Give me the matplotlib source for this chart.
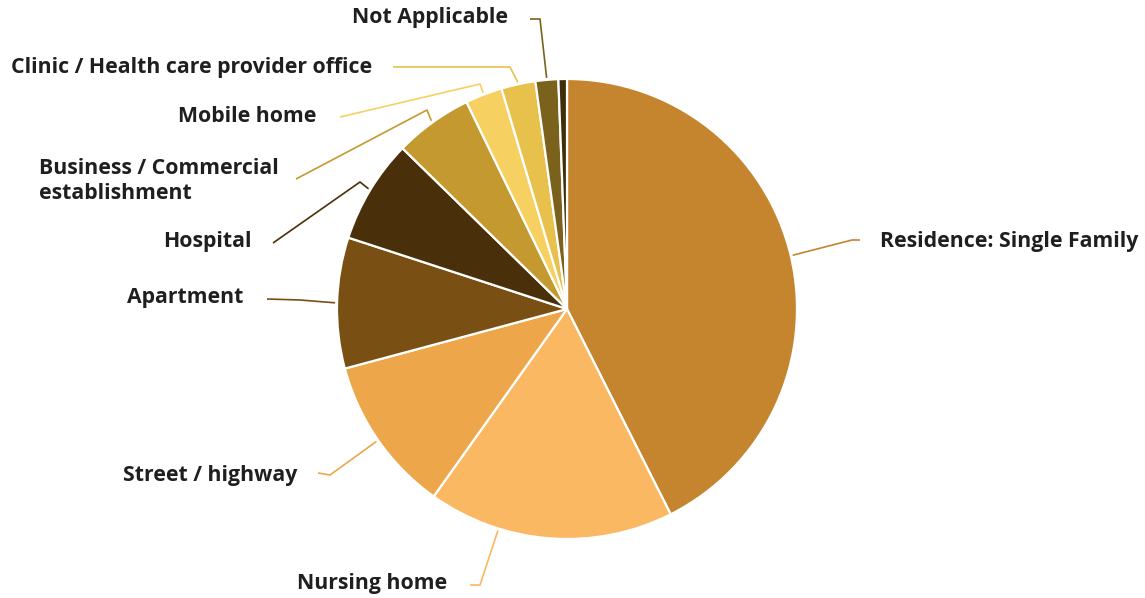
import numpy as np
import matplotlib
matplotlib.use("Agg")
import matplotlib.pyplot as plt

# ---- data ----
categories = ["Residence: Single Family", "Nursing home", "Street / highway", "Apartment",
              "Hospital", "Business / Commercial\nestablishment", "Mobile home",
              "Clinic / Health care provider office", "Not Applicable", ""]
shares = [42.6, 17.3, 11.0, 9.2, 7.3, 5.5, 2.6, 2.4, 1.6, 0.6]
colors = ["#C4852E", "#FBB862", "#EDA74A", "#7A4F14", "#4A300A", "#C49A30",
          "#F6D060", "#E8C04C", "#7A621C", "#3E2E0A"]

W, H = 1145, 598
fig = plt.figure(figsize=(W / 100, H / 100), dpi=100)
ax = fig.add_axes([0, 0, 1, 1])

cx, cy, R = 567, 309, 230  # pixel layout (y down)
wedges, _ = ax.pie(shares, colors=colors, startangle=90, counterclock=False,
                   center=(cx, H - cy), radius=R,
                   wedgeprops=dict(edgecolor="white", linewidth=1.6))
ax.set_xlim(0, W)
ax.set_ylim(0, H)
ax.set_aspect("equal")
ax.axis("off")

# label layout: (text x, text y, ha, line start, elbow, anchor angle offset)
layout = [
    (880, 241, "left", (860, 240), (852, 240), 0),
    (447, 584, "right", (470, 585), (480, 585), 13),
    (297, 475, "right", (318, 473), (330, 475), 0),
    (243, 298, "right", (267, 299), (300, 300), 0),
    (252, 242, "right", (273, 243), (360, 182), 0),
    (39, 181, "left", (296, 179), (427, 110), 0),
    (316, 117, "right", (340, 117), (480, 84), 0),
    (372, 67, "right", (393, 67), (510, 67), 0),
    (508, 18, "right", (530, 19), (540, 19), 0),
]

for i, w in enumerate(wedges):
    if i >= len(layout) or not categories[i]:
        continue
    tx, ty, ha, p0, p1, off = layout[i]
    ang = np.deg2rad((w.theta1 + w.theta2) / 2 - off)
    ax_ = cx + (R + 2) * np.cos(ang)
    ay_ = (H - cy) + (R + 2) * np.sin(ang)
    ax.plot([p0[0], p1[0], ax_], [H - p0[1], H - p1[1], ay_], color=colors[i],
            lw=1.2, solid_capstyle="butt")
    ax.text(tx, H - ty, categories[i], ha=ha, va="center", fontsize=15.3,
            fontfamily="Open Sans", fontweight="bold", color="#1f1f1f",
            linespacing=1.3, multialignment="left")

fig.savefig("out.png", dpi=100)
